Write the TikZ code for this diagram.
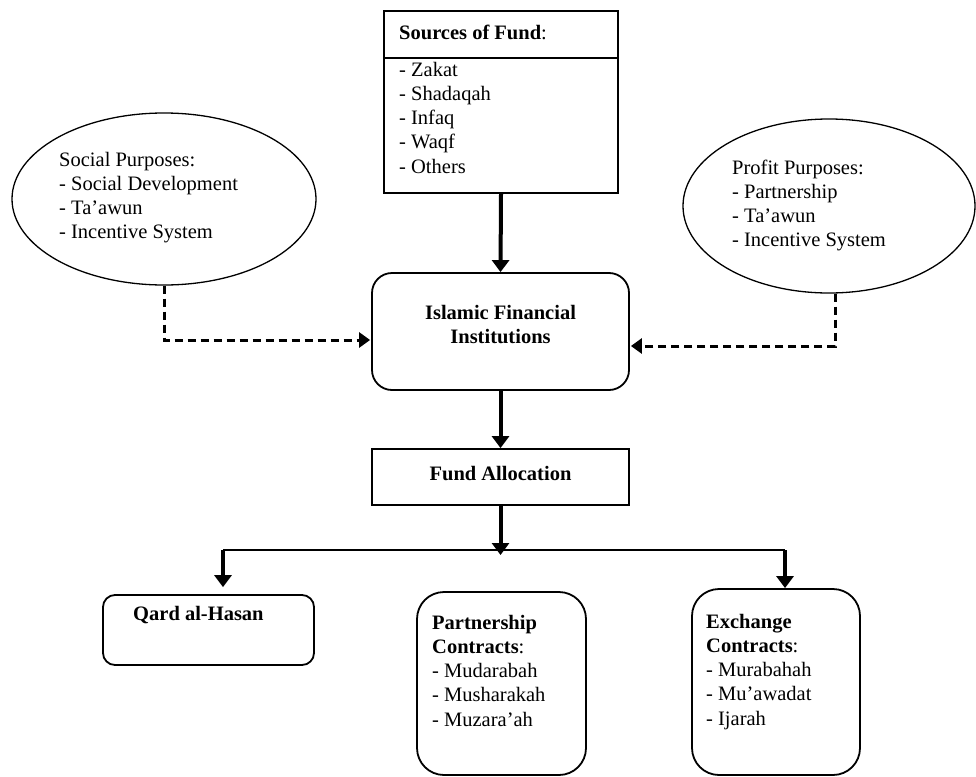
\documentclass[tikz,border=0pt]{standalone}
\usepackage{fontspec}
\setmainfont{Liberation Serif}
\usetikzlibrary{arrows.meta,shapes.geometric,calc}
\begin{document}
\begin{tikzpicture}[x=1pt,y=-1pt,
  boxline/.style={draw=black,line width=1.8pt,inner sep=0pt},
  plainbox/.style={boxline,rectangle},
  roundbox/.style={boxline,rectangle,rounded corners=#1},
  oval/.style={draw=black,line width=1.3pt,ellipse,inner sep=0pt},
  % text blocks are placed by the baseline of their last line
  txt/.style={inner sep=0pt,align=left,anchor=base west,font=\fontsize{20.5}{24.3}\selectfont},
  ctxt/.style={txt,align=center,anchor=base},
  flow/.style={line width=4pt,-{Triangle[length=12pt,width=17pt]}},
  hint/.style={line width=3pt,dash pattern=on 8pt off 5pt,-{Triangle[length=11pt,width=15pt]}},
  branch/.style={line width=2pt}
]
\useasboundingbox (0,0) rectangle (976,776);

% sources of fund
\node[plainbox,minimum width=234pt,minimum height=182pt] (src) at (501,102) {};
\draw[line width=1.8pt] (src.west |- 0,58) -- (src.east |- 0,58);
\node[txt] (srctitle) at (399,40) {\textbf{Sources of Fund}:};
\node[txt] (srclist) at (399,173.2) {- Zakat\\- Shadaqah\\- Infaq\\- Waqf\\- Others};

% purposes
\node[oval,minimum width=304pt,minimum height=172pt] (social) at (164,199) {};
\node[txt] (socialtext) at (59,238.9) {Social Purposes:\\- Social Development\\- Ta’awun\\- Incentive System};
\node[oval,minimum width=292pt,minimum height=174pt] (profit) at (829,206) {};
\node[txt] (profittext) at (732,246.9) {Profit Purposes:\\- Partnership\\- Ta’awun\\- Incentive System};

% institutions and allocation
\node[roundbox=20pt,minimum width=257pt,minimum height=117pt] (ifi) at (500.5,331.5) {};
\node[ctxt] (ifitext) at (500.5,343.3) {\textbf{Islamic Financial}\\\textbf{Institutions}};
\node[plainbox,minimum width=257pt,minimum height=56pt] (fa) at (500.5,477) {};
\node[ctxt] (fatext) at (500.5,480) {\textbf{Fund Allocation}};

% contract types
\node[roundbox=12pt,minimum width=211pt,minimum height=70pt] (qard) at (208.5,630) {};
\node[txt] (qardtext) at (133,620) {\textbf{Qard al-Hasan}};
\node[roundbox=27pt,minimum width=169pt,minimum height=183pt] (part) at (501.5,683.5) {};
\node[txt] (parttext) at (432,726.2) {\textbf{Partnership}\\\textbf{Contracts}:\\- Mudarabah\\- Musharakah\\- Muzara’ah};
\node[roundbox=27pt,minimum width=168pt,minimum height=186pt] (exch) at (776,682) {};
\node[txt] (exchtext) at (706,725.2) {\textbf{Exchange}\\\textbf{Contracts}:\\- Murabahah\\- Mu’awadat\\- Ijarah};

% flow connectors
\draw[flow] (src.south) -- (ifi.north);
\draw[flow] (ifi.south) -- (fa.north);
\coordinate (hub) at (500.5,555);
\coordinate (bl) at (223,550);
\coordinate (br) at (785,550);
\draw[flow] (fa.south) -- (hub);
\draw[branch] (bl) -- (br);
\draw[flow,shorten >=7pt] (bl) -- (bl |- qard.north);
\draw[flow] (br) -- (br |- exch.north);

% purpose connectors
\draw[hint] (social.south) |- ($(ifi.west)+(-1,8.5)$);
\draw[hint] ($(profit.south)+(6,0)$) |- ($(ifi.east)+(1,14.5)$);
\end{tikzpicture}
\end{document}
